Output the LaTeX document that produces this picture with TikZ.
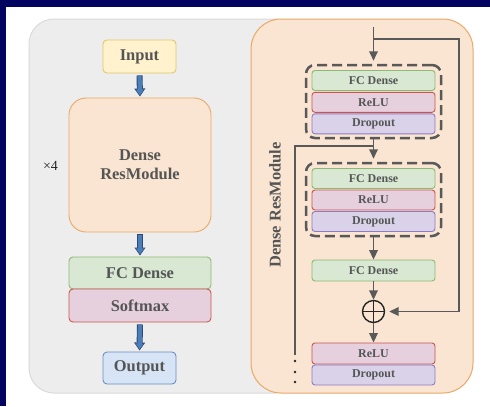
\documentclass[tikz,border=0pt]{standalone}
\usepackage{fontspec}
\setmainfont{Liberation Serif}
\usetikzlibrary{arrows.meta}
\definecolor{navy}{HTML}{03045F}
\definecolor{txt}{HTML}{555555}
\definecolor{gpanel}{HTML}{EDEDED}
\definecolor{gpaneld}{HTML}{DADADA}
\definecolor{ofill}{HTML}{F9E5D1}
\definecolor{odraw}{HTML}{E9A868}
\definecolor{yfill}{HTML}{FFF2CC}
\definecolor{ydraw}{HTML}{E3C66A}
\definecolor{gfill}{HTML}{D8E8D3}
\definecolor{gdraw}{HTML}{8DBA74}
\definecolor{rfill}{HTML}{E6D0DE}
\definecolor{rdraw}{HTML}{C8564F}
\definecolor{pfill}{HTML}{D9D2E8}
\definecolor{pdraw}{HTML}{8F7AC6}
\definecolor{bfill}{HTML}{D6E4F5}
\definecolor{bdraw}{HTML}{6C8EBF}
\definecolor{bblue}{HTML}{4A7EBB}
\definecolor{bdark}{HTML}{2E4A70}
\definecolor{ln}{HTML}{595959}
\tikzset{
  lbox/.style={rectangle, rounded corners=4bp, line width=0.9bp, inner sep=0pt,
    font=\bfseries\fontsize{16.5}{19}\selectfont, text=txt},
  sbox/.style={rectangle, rounded corners=3bp, line width=0.9bp, inner sep=0pt,
    minimum width=123bp, minimum height=20bp, font=\bfseries\fontsize{12}{14}\selectfont, text=txt},
  gbox/.style={fill=gfill, draw=gdraw},
  rbox/.style={fill=rfill, draw=rdraw},
  pbox/.style={fill=pfill, draw=pdraw},
  ybox/.style={fill=yfill, draw=ydraw},
  bbox/.style={fill=bfill, draw=bdraw},
  dbox/.style={rectangle, draw=ln, line width=2.5bp, dash pattern=on 10bp off 5bp,
    rounded corners=9bp, minimum width=135bp, minimum height=73bp, inner sep=0pt},
  bout/.style={draw=bdark, line width=6bp, -{Triangle[width=10.5bp,length=8bp]},
    shorten <=2bp, shorten >=1bp},
  bin/.style={draw=bblue, line width=4.2bp, -{Triangle[width=7.6bp,length=5.8bp]},
    shorten <=2.7bp, shorten >=2.3bp},
  conn/.style={draw=ln, line width=1.8bp, -{Triangle[width=8.5bp,length=9.5bp]}},
  plain/.style={draw=ln, line width=1.8bp},
}
\begin{document}
\begin{tikzpicture}[x=1bp,y=-1bp]
\useasboundingbox (0,0) rectangle (490,406);
\fill[white] (0,0) rectangle (490,406);
\fill[navy] (0,0) rectangle (490,7);
\fill[navy] (0,0) rectangle (6,406);
% panels
\draw[fill=gpanel, draw=gpaneld, line width=1bp, rounded corners=25bp] (29,19) rectangle (300,393);
\draw[fill=ofill, draw=odraw, line width=1bp, rounded corners=30bp] (251,19) rectangle (473,393);
% left column
\node[lbox, ybox, minimum width=73bp, minimum height=33bp] (in) at (139.5,56.5) {Input};
\node[lbox, fill=ofill, draw=odraw, rounded corners=17bp, minimum width=142bp, minimum height=134bp,
  align=center] (dense) at (140,165) {Dense\\ResModule};
\node[lbox, gbox, minimum width=142bp, minimum height=32bp] (fc) at (140,273) {FC Dense};
\node[lbox, rbox, minimum width=142bp, minimum height=33bp] (soft) at (140,305.5) {Softmax};
\node[lbox, bbox, minimum width=73bp, minimum height=32bp] (out) at (139.5,368) {Output};
\node[font=\fontsize{14}{16}\selectfont, text=black!85] (times) at (50.5,166) {×4};
\foreach \a/\b in {in/dense, dense/fc, soft/out}{
  \draw[bout] (\a.south) -- (\b.north);
  \draw[bin] (\a.south) -- (\b.north);
}
% right column
\node[rotate=90, font=\bfseries\fontsize{16.5}{19}\selectfont, text=txt] (lab) at (275,205) {Dense ResModule};
\node[dbox] (d1) at (373.5,101.5) {};
\node[sbox, gbox] (fc1) at (373.5,80.5) {FC Dense};
\node[sbox, rbox] (r1) at (373.5,102.3) {ReLU};
\node[sbox, pbox] (p1) at (373.5,123.8) {Dropout};
\node[dbox] (d2) at (373.5,199.5) {};
\node[sbox, gbox] (fc2) at (373.5,178.5) {FC Dense};
\node[sbox, rbox] (r2) at (373.5,200) {ReLU};
\node[sbox, pbox] (p2) at (373.5,221.5) {Dropout};
\node[sbox, gbox, minimum height=21bp] (fc3) at (373.5,270.5) {FC Dense};
\node[circle, draw=black!85, line width=1.4bp, minimum size=22bp, inner sep=0pt,
  path picture={\draw[black!85, line width=1.4bp] (path picture bounding box.north) -- (path picture bounding box.south)
  (path picture bounding box.west) -- (path picture bounding box.east);}] (plus) at (373.5,311.5) {};
\node[sbox, rbox, minimum height=21bp] (r3) at (373.5,353.5) {ReLU};
\node[sbox, pbox] (p3) at (373.5,375) {Dropout};
\coordinate (top) at (373.5,27);
\coordinate (b1) at (373.5,39);
\coordinate (rc) at (459,311.5);
\coordinate (b2) at (373.5,146);
\coordinate (lend) at (295,355);
\draw[conn, shorten >=3bp] (top) -- (d1.north);
\draw[conn, shorten >=4bp] (b1) -| (rc) -- (plus.east);
\draw[conn, shorten >=3bp] (d1.south) -- (d2.north);
\draw[plain] (b2) -| (lend);
\draw[conn] (d2.south) -- (fc3.north);
\draw[conn] (fc3.south) -- (plus.north);
\draw[conn] (plus.south) -- (r3.north);
\foreach \y/\n in {361/dA, 372/dB, 382/dC}{
  \node[circle, fill=black!85, inner sep=0pt, minimum size=2.6bp] (\n) at (295,\y) {};
}
\end{tikzpicture}
\end{document}
